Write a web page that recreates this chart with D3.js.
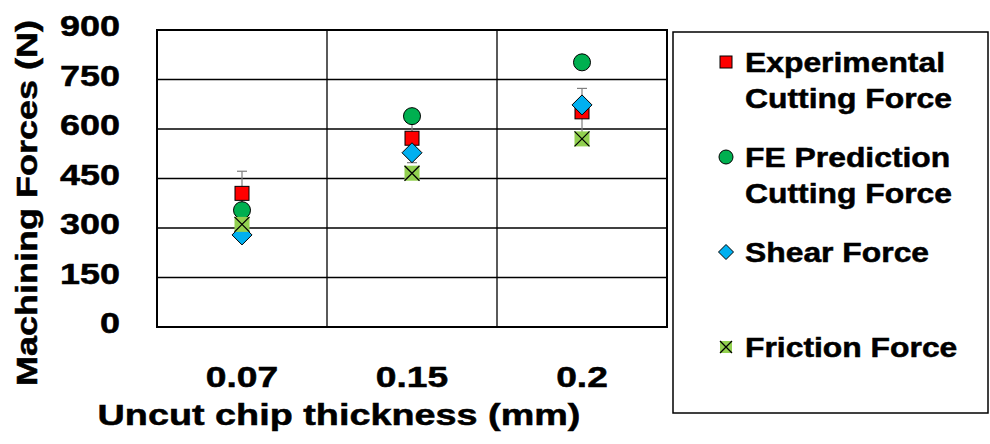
<!DOCTYPE html>
<html>
<head>
<meta charset="utf-8">
<script src="https://cdn.jsdelivr.net/npm/d3@7"></script>
<style>
  html, body { margin: 0; padding: 0; background: #fff; }
  svg { display: block; }
  text { font-family: "Liberation Sans", Arial, sans-serif; font-weight: bold; fill: #000; stroke: #000; stroke-width: 0.5px; }
</style>
</head>
<body>
<svg id="chart" width="990" height="444"></svg>
<script>
// Uncut chip thickness categories (mm)
const categories = ["0.07", "0.15", "0.2"];
// Machining forces (N)
const experimental = [405, 572, 652];
const experimentalErr = [67, 74, 71];
const fePrediction = [354, 639, 802];
const shearForce = [279, 528, 673];
const frictionForce = [311, 466, 570];
const yTicks = [0, 150, 300, 450, 600, 750, 900];
const legendLabels = [
  ["Experimental", "Cutting Force"],
  ["FE Prediction", "Cutting Force"],
  ["Shear Force"],
  ["Friction Force"]
];

const svg = d3.select("#chart");
const plot = { left: 157, right: 667, top: 30, bottom: 327 };
const stretch = 1.24; // wide lettering

const x = d3.scaleBand().domain(categories).range([plot.left, plot.right]).padding(0);
const y = d3.scaleLinear().domain([0, 900]).range([plot.bottom, plot.top]);

// horizontal gridlines
svg.append("g").selectAll("line").data(yTicks).join("line")
  .attr("x1", plot.left).attr("x2", plot.right)
  .attr("y1", d => y(d)).attr("y2", d => y(d))
  .attr("stroke", "#000").attr("stroke-width", 1.3);

// vertical gridlines between categories
svg.append("g").selectAll("line").data(categories.slice(1)).join("line")
  .attr("x1", d => x(d)).attr("x2", d => x(d))
  .attr("y1", plot.top).attr("y2", plot.bottom)
  .attr("stroke", "#000").attr("stroke-width", 1.3);

// plot frame
svg.append("rect")
  .attr("x", plot.left).attr("y", plot.top)
  .attr("width", plot.right - plot.left).attr("height", plot.bottom - plot.top)
  .attr("fill", "none").attr("stroke", "#000").attr("stroke-width", 2);

// y axis tick labels
const yAxis = svg.append("g").attr("transform", "translate(120,0)")
  .call(d3.axisLeft(y).tickValues(yTicks).tickSize(0).tickPadding(0));
yAxis.select(".domain").remove();
yAxis.selectAll("text")
  .attr("x", 0).attr("dy", "0.3em")
  .attr("font-family", null).attr("font-size", null)
  .style("font-size", "29px")
  .attr("transform", `translate(0,-3) scale(${stretch},1)`);

// x axis tick labels
const xAxis = svg.append("g")
  .call(d3.axisBottom(x).tickSize(0).tickPadding(0));
xAxis.select(".domain").remove();
xAxis.selectAll(".tick text")
  .attr("y", 387).attr("dy", 0)
  .attr("font-family", null).attr("font-size", null)
  .style("font-size", "30px")
  .attr("text-anchor", "middle")
  .attr("transform", `scale(${stretch},1)`);

// axis titles
svg.append("text")
  .attr("transform", `translate(339,425) scale(1.26,1)`)
  .attr("text-anchor", "middle").style("font-size", "30px")
  .text("Uncut chip thickness (mm)");
svg.append("text")
  .attr("transform", `translate(37,203) rotate(-90) scale(1.2,1)`)
  .attr("text-anchor", "middle").style("font-size", "30px")
  .text("Machining Forces (N)");

// marker shapes
const markers = {
  square: (g, s) => g.append("rect").attr("x", -s / 2).attr("y", -s / 2).attr("width", s).attr("height", s)
    .attr("fill", "#FF0000").attr("stroke", "#000").attr("stroke-width", 1),
  circle: (g, s) => g.append("circle").attr("r", s / 2)
    .attr("fill", "#00B050").attr("stroke", "#000").attr("stroke-width", 1),
  diamond: (g, s) => g.append("path").attr("d", `M0,${-s / 2}L${s / 2},0L0,${s / 2}L${-s / 2},0Z`)
    .attr("fill", "#00B0F0").attr("stroke", "#000").attr("stroke-width", 1),
  cross: (g, s) => {
    g.append("rect").attr("x", -s / 2).attr("y", -s / 2).attr("width", s).attr("height", s)
      .attr("fill", "#92D050");
    g.append("path").attr("d", `M${-s / 2},${-s / 2}L${s / 2},${s / 2}M${s / 2},${-s / 2}L${-s / 2},${s / 2}`)
      .attr("stroke", "#000").attr("stroke-width", 1.3).attr("fill", "none");
  }
};

// error bars on experimental cutting force
const cx = d => x(d) + x.bandwidth() / 2;
const err = svg.append("g").attr("stroke", "#7f7f7f").attr("stroke-width", 1.2);
categories.forEach((c, i) => {
  const hi = y(experimental[i] + experimentalErr[i]);
  const lo = y(experimental[i] - experimentalErr[i]);
  err.append("line").attr("x1", cx(c)).attr("x2", cx(c)).attr("y1", hi).attr("y2", lo);
  err.append("line").attr("x1", cx(c) - 5).attr("x2", cx(c) + 5).attr("y1", hi).attr("y2", hi);
  err.append("line").attr("x1", cx(c) - 5).attr("x2", cx(c) + 5).attr("y1", lo).attr("y2", lo);
});

const series = [
  { values: experimental, shape: "square", size: 14, legendSize: 12 },
  { values: fePrediction, shape: "circle", size: 17, legendSize: 14 },
  { values: shearForce, shape: "diamond", size: 20, legendSize: 15 },
  { values: frictionForce, shape: "cross", size: 15, legendSize: 12 }
];

series.forEach(s => {
  categories.forEach((c, i) => {
    const g = svg.append("g").attr("transform", `translate(${cx(c)},${y(s.values[i])})`);
    markers[s.shape](g, s.size);
  });
});

// legend
svg.append("rect").attr("x", 673).attr("y", 32).attr("width", 315).attr("height", 381)
  .attr("fill", "none").attr("stroke", "#000").attr("stroke-width", 1.5);
const legendRows = [72, 167, 262, 357];
series.forEach((s, i) => {
  const g = svg.append("g").attr("transform", `translate(726,${legendRows[i] - 10})`);
  markers[s.shape](g, s.legendSize);
  legendLabels[i].forEach((line, j) => {
    svg.append("text")
      .attr("transform", `translate(745,${legendRows[i] + j * 36}) scale(1.18,1)`)
      .style("font-size", "27px")
      .text(line);
  });
});
</script>
</body>
</html>
